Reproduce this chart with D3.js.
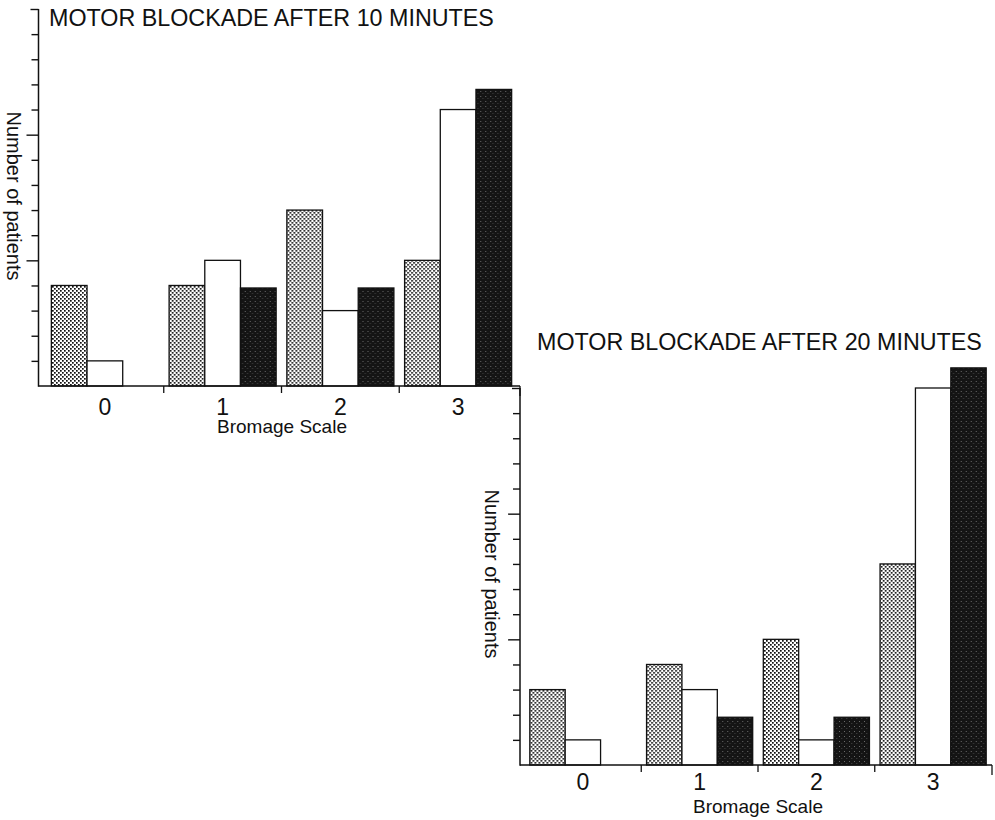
<!DOCTYPE html>
<html>
<head>
<meta charset="utf-8">
<script src="https://cdn.jsdelivr.net/npm/d3@7/dist/d3.min.js"></script>
<style>
  html,body{margin:0;padding:0;background:#fff;}
  svg{display:block;}
  text{font-family:"Liberation Sans",Arial,Helvetica,sans-serif;fill:#111;}
</style>
</head>
<body>
<div id="chart"></div>
<script>
/* two grouped bar panels - motor blockade on the Bromage scale */

var categories = ['0','1','2','3'];
var seriesKeys = ['stippled','open','solid'];
var yTickValues = d3.range(1,16);
var yMajorTicks = [5,10];

// after 10 minutes
var min10Stippled = [4, 4, 7, 5];
var min10Open     = [1, 5, 3, 11];
var min10Solid    = [0, 3.9, 3.9, 11.8];

// after 20 minutes
var min20Stippled = [3, 4, 5, 8];
var min20Open     = [1, 3, 1, 15];
var min20Solid    = [0, 1.9, 1.9, 15.8];

var W = 995, H = 820;
var svg = d3.select('#chart').append('svg').attr('width',W).attr('height',H);

// fills: light dot screen, plain white, dark speckled screen
var defs = svg.append('defs');
var pl = defs.append('pattern').attr('id','dotLight').attr('patternUnits','userSpaceOnUse')
    .attr('width',4).attr('height',4);
pl.append('rect').attr('width',4).attr('height',4).attr('fill','#fff');
pl.append('rect').attr('x',0).attr('y',0).attr('width',1.7).attr('height',1.7).attr('fill','#111');
pl.append('rect').attr('x',2).attr('y',2).attr('width',1.7).attr('height',1.7).attr('fill','#111');
var pd = defs.append('pattern').attr('id','dotDark').attr('patternUnits','userSpaceOnUse')
    .attr('width',5).attr('height',5);
pd.append('rect').attr('width',5).attr('height',5).attr('fill','#141414');
pd.append('rect').attr('x',1).attr('y',1).attr('width',0.8).attr('height',0.8).attr('fill','#9a9a9a');
pd.append('rect').attr('x',3.5).attr('y',3.2).attr('width',0.7).attr('height',0.7).attr('fill','#777');
var fills = {stippled:'url(#dotLight)', open:'#fff', solid:'url(#dotDark)'};

function drawPanel(p){
    var g = svg.append('g');
    var x = d3.scaleBand().domain(categories).range([p.bandLeft,p.bandRight]).paddingInner(0).paddingOuter(0);
    var xs = d3.scaleBand().domain(seriesKeys).range([0,x.bandwidth()]).paddingOuter(0.15).paddingInner(0);
    var y = d3.scaleLinear().domain([0,15]).range([p.bottom,p.top]);

    var rows = categories.map(function(c,i){
        return {cat:c, stippled:p.stippled[i], open:p.open[i], solid:p.solid[i]};
    });

    // bars
    var grp = g.selectAll('g.grp').data(rows).join('g').attr('class','grp')
        .attr('transform',function(d){ return 'translate('+x(d.cat)+',0)'; });
    grp.selectAll('rect').data(function(d){
            return seriesKeys.map(function(k){ return {key:k, value:d[k]}; }).filter(function(v){ return v.value>0; });
        }).join('rect')
        .attr('x',function(d){ return xs(d.key); })
        .attr('y',function(d){ return y(d.value); })
        .attr('width',xs.bandwidth())
        .attr('height',function(d){ return y(0)-y(d.value); })
        .attr('fill',function(d){ return fills[d.key]; })
        .attr('stroke','#111').attr('stroke-width',1.3);

    // y axis: left pointing ticks, longer at 5 and 10
    var yAxis = d3.axisLeft(y).tickValues(yTickValues).tickFormat('').tickSizeOuter(0)
        .tickSizeInner(7);
    var ya = g.append('g').attr('transform','translate('+p.axisX+',0)').call(yAxis);
    ya.select('.domain').remove();
    ya.selectAll('.tick line').attr('stroke','#111').attr('stroke-width',1.4)
        .attr('x2',function(d){ return yMajorTicks.indexOf(d)>=0 ? -12 : (d===15 ? -8 : -7); });
    g.append('line').attr('x1',p.axisX).attr('x2',p.axisX).attr('y1',y(15)).attr('y2',y(0)+0.7)
        .attr('stroke','#111').attr('stroke-width',1.5);

    // x axis: line + ticks at group boundaries
    g.append('line').attr('x1',p.axisX).attr('x2',p.axisRight).attr('y1',y(0)).attr('y2',y(0))
        .attr('stroke','#111').attr('stroke-width',1.5);
    var bounds = categories.slice(1).map(function(c){ return x(c); }).concat([p.axisRight]);
    g.selectAll('line.xtick').data(bounds).join('line').attr('class','xtick')
        .attr('x1',function(d){ return d; }).attr('x2',function(d){ return d; })
        .attr('y1',y(0)).attr('y2',function(d,i){ return y(0)+(i===bounds.length-1?10:7); })
        .attr('stroke','#111').attr('stroke-width',1.3);
    g.selectAll('text.xlab').data(categories).join('text').attr('class','xlab')
        .attr('x',function(d){ return x(d)+x.bandwidth()/2; })
        .attr('y',p.labelY).attr('text-anchor','middle').attr('font-size','23px')
        .text(function(d){ return d; });

    g.append('text').attr('x',p.xTitleX).attr('y',p.xTitleY).attr('text-anchor','middle')
        .attr('font-size','19px').text('Bromage Scale');
    g.append('text').attr('transform','translate('+p.yTitleX+','+p.yTitleY+') rotate(90)')
        .attr('text-anchor','middle').attr('dy','0.35em').attr('font-size','20px').text('Number of patients');
    g.append('text').attr('x',p.titleX).attr('y',p.titleY).attr('font-size','23.3px').text(p.title);
}

drawPanel({
    title:'MOTOR BLOCKADE AFTER 10 MINUTES', titleX:49, titleY:26,
    stippled:min10Stippled, open:min10Open, solid:min10Solid,
    axisX:38.5, axisRight:520, bandLeft:46, bandRight:517,
    top:9, bottom:386, labelY:415, xTitleX:282, xTitleY:433,
    yTitleX:14, yTitleY:196
});
drawPanel({
    title:'MOTOR BLOCKADE AFTER 20 MINUTES', titleX:537, titleY:350,
    stippled:min20Stippled, open:min20Open, solid:min20Solid,
    axisX:520, axisRight:992, bandLeft:524.5, bandRight:991.5,
    top:388, bottom:765, labelY:790, xTitleX:758, xTitleY:813,
    yTitleX:492, yTitleY:574
});
</script>
</body>
</html>
